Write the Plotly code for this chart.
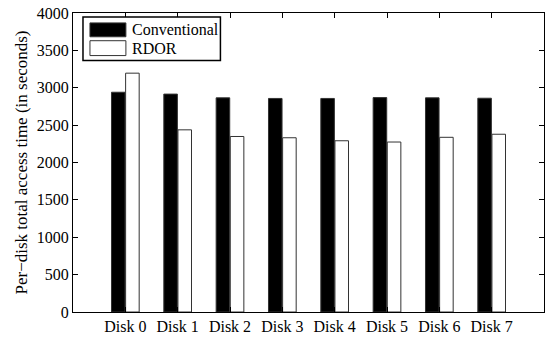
import plotly.graph_objects as go

categories = ["Disk 0", "Disk 1", "Disk 2", "Disk 3", "Disk 4", "Disk 5", "Disk 6", "Disk 7"]
conventional = [2940, 2915, 2865, 2857, 2857, 2868, 2865, 2860]
rdor = [3195, 2437, 2348, 2331, 2291, 2274, 2337, 2378]
y_ticks = [0, 500, 1000, 1500, 2000, 2500, 3000, 3500, 4000]
series_names = ["Conventional", "RDOR"]
series_colors = ["black", "white"]

positions = list(range(1, len(categories) + 1))
FONT = "Liberation Serif, Times New Roman, serif"

fig = go.Figure()
for name, vals, col in zip(series_names, [conventional, rdor], series_colors):
    fig.add_trace(go.Bar(
        x=positions, y=vals, name=name, showlegend=False,
        marker=dict(color=col, line=dict(color="#333333", width=1)),
    ))

fig.update_layout(
    width=549, height=339,
    margin=dict(l=73, r=4, t=13, b=24),
    paper_bgcolor="white", plot_bgcolor="white",
    barmode="group", bargap=0.46, bargroupgap=0.04,
    font=dict(family=FONT, size=16, color="black"),
    showlegend=False,
)
fig.update_xaxes(
    range=[0, len(categories) + 1],
    tickmode="array", tickvals=positions, ticktext=categories,
    ticks="inside", ticklen=5, tickcolor="black",
    showline=True, linecolor="black", linewidth=1, mirror="ticks",
    showgrid=False, zeroline=False,
    tickfont=dict(family=FONT, size=16, color="black"),
)
fig.update_yaxes(
    range=[0, 4000],
    tickmode="array", tickvals=y_ticks,
    ticks="inside", ticklen=5, tickcolor="black",
    showline=True, linecolor="black", linewidth=1, mirror="ticks",
    showgrid=False, zeroline=False,
    tickfont=dict(family=FONT, size=16, color="black"),
    title=dict(text="Per\u2212disk total access time (in seconds)",
               font=dict(family=FONT, size=17, color="black"), standoff=4),
)

# Legend box drawn in MATLAB style (wide swatches)
fig.add_shape(type="rect", xref="paper", yref="paper",
              x0=0.0212, x1=0.313, y0=0.841, y1=0.987,
              line=dict(color="black", width=1.5), fillcolor="white", layer="above")
swatch_y = [(0.9205, 0.9669), (0.8576, 0.9073)]
text_y = [0.9437, 0.8808]
for name, col, (y0, y1), ty in zip(series_names, series_colors, swatch_y, text_y):
    fig.add_shape(type="rect", xref="paper", yref="paper",
                  x0=0.036, x1=0.1123, y0=y0, y1=y1,
                  line=dict(color="#333333", width=1), fillcolor=col, layer="above")
    fig.add_annotation(xref="paper", yref="paper", x=0.1208, y=ty,
                       text=name, showarrow=False, xanchor="left", yanchor="middle",
                       font=dict(family=FONT, size=16, color="black"))

fig.write_html(
    "out.html",
    config={"displayModeBar": False},
    post_script="document.body.style.margin='0';document.body.style.overflow='hidden';",
)
